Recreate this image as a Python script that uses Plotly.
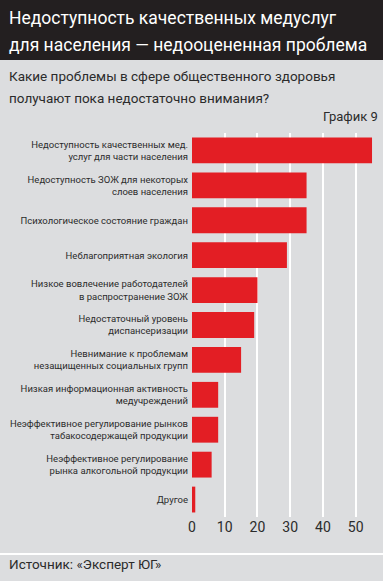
import plotly.graph_objects as go

categories = [
    "Недоступность качественных мед.<br>услуг для части населения",
    "Недоступность ЗОЖ для некоторых<br>слоев населения",
    "Психологическое состояние граждан",
    "Неблагоприятная экология",
    "Низкое вовлечение работодателей<br>в распространение ЗОЖ",
    "Недостаточный уровень<br>диспансеризации",
    "Невнимание к проблемам<br>незащищенных социальных групп",
    "Низкая информационная активность<br>медучреждений",
    "Неэффективное регулирование рынков<br>табакосодержащей продукции",
    "Неэффективное регулирование<br>рынка алкогольной продукции",
    "Другое",
]
values = [55, 35, 35, 29, 20, 19, 15, 8, 8, 6, 1]
tick_vals = [0, 10, 20, 30, 40, 50]

W, H = 383, 581
L, R, T, B = 192, 10, 133, 64
PW, PH = W - L - R, H - T - B

def px(x):
    return (x - L) / PW

def py(y):
    return (H - B - y) / PH

FONT = "Roboto, sans-serif"
BG = "#dcdddf"
DARK = "#231f20"
TXT = "#2b2b2b"

fig = go.Figure(go.Bar(
    x=values, y=categories, orientation="h",
    marker=dict(color="#e31e24", line=dict(width=0)),
    width=0.74,
))

def text_ann(text, x, y, size, color, xanchor="left"):
    return dict(text=text, xref="paper", yref="paper", x=px(x), y=py(y),
                xanchor=xanchor, yanchor="middle", align=xanchor, showarrow=False,
                font=dict(family=FONT, size=size, color=color))

fig.update_layout(
    width=W, height=H,
    margin=dict(l=L, r=R, t=T, b=B, autoexpand=False),
    paper_bgcolor=BG, plot_bgcolor=BG,
    showlegend=False,
    font=dict(family=FONT, color=TXT),
    xaxis=dict(range=[0, 55.3], tickvals=tick_vals, showgrid=True,
               gridcolor="white", gridwidth=1.5, zeroline=False,
               showline=False, ticks="", tickfont=dict(size=14, color=TXT),
               fixedrange=True),
    yaxis=dict(autorange="reversed", showgrid=False, zeroline=False,
               showline=False, ticks="", ticklabelstandoff=3,
               tickfont=dict(size=9.5, color=TXT), fixedrange=True),
    shapes=[
        dict(type="rect", xref="paper", yref="paper",
             x0=px(-5), x1=px(W + 5), y0=py(60), y1=py(-5),
             fillcolor=DARK, line=dict(width=0), layer="below"),
        dict(type="line", xref="paper", yref="paper",
             x0=px(-5), x1=px(W + 5), y0=py(554), y1=py(554),
             line=dict(color="white", width=2)),
    ],
    annotations=[
        text_ann("Недоступность качественных медуслуг", 7, 18, 17.5, "white"),
        text_ann("для населения — недооцененная проблема", 7, 45, 17.5, "white"),
        text_ann("Какие проблемы в сфере общественного здоровья", 7, 76, 13.5, TXT),
        text_ann("получают пока недостаточно внимания?", 7, 98, 13.5, TXT),
        text_ann("График 9", 380, 117, 13, TXT, xanchor="right"),
        text_ann("Источник: «Эксперт ЮГ»", 7, 564, 13.5, TXT),
    ],
)

fig.write_html("out.html", config={"displayModeBar": False},
               post_script="document.body.style.margin='0';document.body.style.background='#dcdddf';")
